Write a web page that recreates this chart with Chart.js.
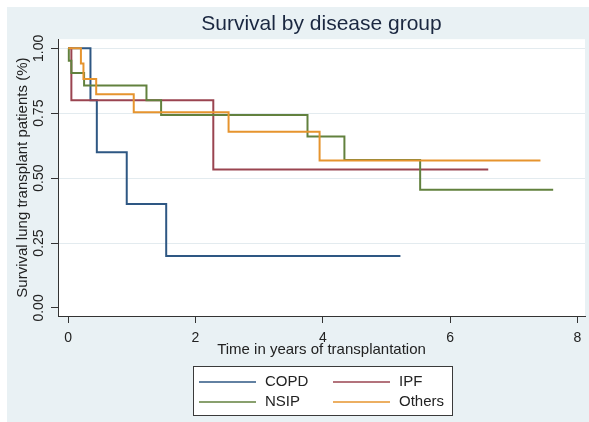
<!DOCTYPE html>
<html>
<head>
<meta charset="utf-8">
<script src="https://cdn.jsdelivr.net/npm/chart.js@4.4.1/dist/chart.umd.min.js"></script>
<style>
  html, body { margin: 0; padding: 0; background: #fff; }
</style>
</head>
<body>
<canvas id="km" width="589" height="422"></canvas>
<script>
// Kaplan-Meier steps: time in years, survival share
const groups = ['COPD', 'IPF', 'NSIP', 'Others']
const colors = ['#2e5783', '#9a4450', '#62813e', '#e6942e']

const copdTime = [0, 0.35, 0.45, 0.92, 1.54, 5.22]
const copdSurv = [1, 0.8, 0.6, 0.4, 0.2, 0.2]

const ipfTime = [0, 0.05, 2.28, 6.6]
const ipfSurv = [1, 0.8, 0.533, 0.533]

const nsipTime = [0, 0.01, 0.05, 0.25, 1.23, 1.46, 3.76, 4.34, 5.53, 7.62]
const nsipSurv = [1, 0.952, 0.905, 0.857, 0.8, 0.743, 0.66, 0.57, 0.455, 0.455]

const othersTime = [0, 0.2, 0.24, 0.44, 1.03, 2.52, 3.95, 7.42]
const othersSurv = [1, 0.941, 0.882, 0.823, 0.754, 0.679, 0.568, 0.568]

const xTicks = [0, 2, 4, 6, 8]
const yTicks = [0, 0.25, 0.5, 0.75, 1]

const series = [[copdTime, copdSurv], [ipfTime, ipfSurv], [nsipTime, nsipSurv], [othersTime, othersSurv]]

const FONT = "'Liberation Sans', Arial, Helvetica, sans-serif"
Chart.defaults.font.family = FONT
Chart.defaults.color = '#222'

const panel = {
  id: 'panel',
  beforeDraw (chart) {
    const { ctx, width, height, chartArea: a } = chart
    ctx.save()
    ctx.fillStyle = '#fff'
    ctx.fillRect(0, 0, width, height)
    ctx.fillStyle = '#e9f1f4'
    ctx.fillRect(7, 7, width - 7, height - 7)
    ctx.fillStyle = '#fff'
    ctx.fillRect(a.left, a.top, a.right - a.left, a.bottom - a.top)
    ctx.restore()
  }
}

// stata-like boxed legend, two columns
const boxLegend = {
  id: 'boxLegend',
  afterDraw (chart) {
    const { ctx } = chart
    ctx.save()
    ctx.fillStyle = '#fff'
    ctx.fillRect(193, 366, 260, 50)
    ctx.strokeStyle = '#3a3a3a'
    ctx.lineWidth = 1
    ctx.strokeRect(193.5, 366.5, 259, 49)
    chart.data.datasets.forEach((ds, i) => {
      const x = 199 + (i % 2) * 134
      const y = 382 + Math.floor(i / 2) * 20
      ctx.strokeStyle = ds.borderColor
      ctx.lineWidth = 1.5
      ctx.beginPath()
      ctx.moveTo(x, y)
      ctx.lineTo(x + 57, y)
      ctx.stroke()
      ctx.fillStyle = '#222'
      ctx.font = '15px ' + FONT
      ctx.textBaseline = 'middle'
      ctx.fillText(ds.label, x + 66, y)
    })
    ctx.restore()
  }
}

new Chart(document.getElementById('km'), {
  type: 'line',
  data: {
    datasets: series.map(([t, s], i) => ({
      label: groups[i],
      data: t.map((v, j) => ({ x: v, y: s[j] })),
      borderColor: colors[i],
      backgroundColor: colors[i],
      borderWidth: 2,
      pointRadius: 0,
      stepped: true,
      fill: false,
      order: groups.length - i
    }))
  },
  options: {
    responsive: false,
    animation: false,
    events: [],
    layout: {
      padding: { left: 0, right: 4, top: 0, bottom: 60 }
    },
    plugins: {
      legend: { display: false },
      tooltip: { enabled: false },
      title: {
        display: true,
        fullSize: false,
        text: 'Survival by disease group',
        color: '#1a2740',
        font: { size: 21, weight: 'normal' },
        padding: { top: 12, bottom: 2 }
      }
    },
    scales: {
      x: {
        type: 'linear',
        min: -0.16,
        max: 8.12,
        afterBuildTicks: scale => { scale.ticks = xTicks.map(v => ({ value: v })) },
        afterFit: scale => { scale.height = 46 },
        grid: {
          color: 'rgba(0,0,0,0)',
          tickColor: '#333',
          tickLength: 7
        },
        border: { color: '#333', width: 1 },
        ticks: {
          font: { size: 14 },
          color: '#222',
          padding: 7,
          maxRotation: 0,
          callback: v => String(v)
        },
        title: {
          display: true,
          text: 'Time in years of transplantation',
          font: { size: 15 },
          color: '#222',
          padding: { top: 0, bottom: 3 }
        }
      },
      y: {
        min: -0.031,
        max: 1.035,
        afterBuildTicks: scale => { scale.ticks = yTicks.map(v => ({ value: v })) },
        afterFit: scale => { scale.width = 58 },
        grid: {
          color: ctx => (ctx.tick && ctx.tick.value === 0 ? 'rgba(0,0,0,0)' : '#e3ebef'),
          tickColor: '#333',
          tickLength: 7
        },
        border: { color: '#333', width: 1 },
        ticks: {
          font: { size: 14 },
          color: '#222',
          padding: -2,
          minRotation: 90,
          maxRotation: 90,
          crossAlign: 'center',
          callback: v => v.toFixed(2)
        },
        title: {
          display: true,
          text: 'Survival lung transplant patients (%)',
          font: { size: 15 },
          color: '#222',
          padding: { top: 13.5, bottom: 0 }
        }
      }
    }
  },
  plugins: [panel, boxLegend]
})
</script>
</body>
</html>
